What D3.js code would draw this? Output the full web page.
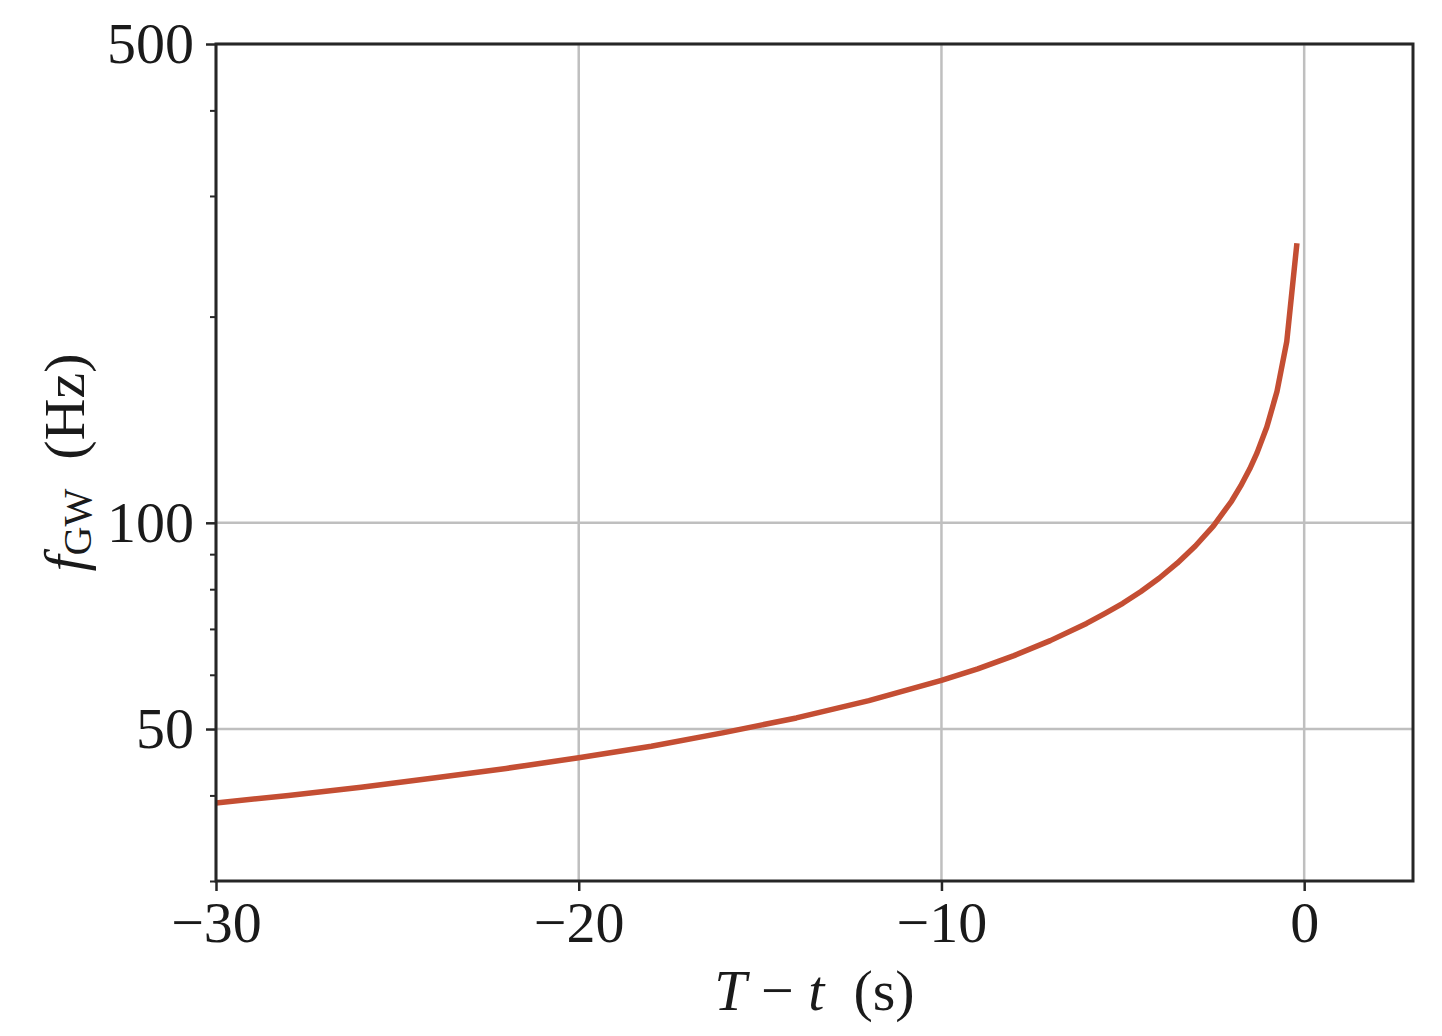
<!DOCTYPE html>
<html>
<head>
<meta charset="utf-8">
<script src="https://cdn.jsdelivr.net/npm/d3@7"></script>
<style>
  html, body { margin: 0; padding: 0; background: #fff; }
  svg { display: block; }
  text { font-family: "Liberation Serif", "DejaVu Serif", serif; fill: #1a1a1a; }
</style>
</head>
<body>
<svg id="chart" width="1442" height="1036"></svg>
<script>
// ---- data ----
const timeToMerger = [-30, -28, -26, -24, -22, -20, -18, -16, -14, -12, -10, -9, -8, -7, -6, -5.5, -5, -4.5, -4, -3.5, -3, -2.5, -2, -1.75, -1.5, -1.3, -1.03, -0.75, -0.48, -0.2];
const freqGW       = [39.0, 40.0, 41.1, 42.4, 43.8, 45.4, 47.2, 49.4, 51.9, 55.0, 58.9, 61.2, 64.0, 67.3, 71.3, 73.7, 76.3, 79.4, 83.0, 87.3, 92.5, 99.0, 107.6, 113.2, 119.9, 126.5, 138.0, 155.5, 183.9, 256];
const xTicks = [-30, -20, -10, 0];
const yMajorTicks = [50, 100, 500];
const yMinorTicks = [30, 40, 60, 70, 80, 90, 200, 300, 400];
const xDomain = [-30, 3];
const yDomain = [30, 500];

// ---- layout ----
const W = 1442, H = 1036;
const margin = { left: 216, right: 29, top: 44, bottom: 155 };
const pw = W - margin.left - margin.right;
const ph = H - margin.top - margin.bottom;

const svg = d3.select("#chart");
const g = svg.append("g").attr("transform", `translate(${margin.left},${margin.top})`);

const x = d3.scaleLinear().domain(xDomain).range([0, pw]);
const y = d3.scaleLog().domain(yDomain).range([ph, 0]);

const axisColor = "#262626";
const gridColor = "#bfbfbf";
const fs = 58;

// grid
g.append("g").selectAll("line").data(xTicks).join("line")
  .attr("x1", d => x(d)).attr("x2", d => x(d))
  .attr("y1", 0).attr("y2", ph)
  .attr("stroke", gridColor).attr("stroke-width", 2.5);
g.append("g").selectAll("line").data(yMajorTicks).join("line")
  .attr("x1", 0).attr("x2", pw)
  .attr("y1", d => y(d)).attr("y2", d => y(d))
  .attr("stroke", gridColor).attr("stroke-width", 2.5);

// curve
const pts = timeToMerger.map((t, i) => [t, freqGW[i]]);
g.append("path")
  .datum(pts)
  .attr("fill", "none")
  .attr("stroke", "#c44e33")
  .attr("stroke-width", 5.5)
  .attr("stroke-linejoin", "round")
  .attr("d", d3.line().x(d => x(d[0])).y(d => y(d[1])));

// x axis
const xAxis = g.append("g").attr("transform", `translate(0,${ph})`)
  .call(d3.axisBottom(x).tickValues(xTicks).tickSize(10).tickPadding(10)
    .tickFormat(d => d < 0 ? "\u2212" + Math.abs(d) : String(d)));
xAxis.select(".domain").remove();
xAxis.selectAll(".tick line").attr("stroke", axisColor).attr("stroke-width", 2.5);
xAxis.selectAll(".tick text").attr("font-size", fs).attr("fill", "#1a1a1a")
  .attr("font-family", "Liberation Serif, serif");

// y axis major
const yAxis = g.append("g")
  .call(d3.axisLeft(y).tickValues(yMajorTicks).tickSize(10).tickPadding(12)
    .tickFormat(d3.format("d")));
yAxis.select(".domain").remove();
yAxis.selectAll(".tick line").attr("stroke", axisColor).attr("stroke-width", 2.5);
yAxis.selectAll(".tick text").attr("font-size", fs).attr("fill", "#1a1a1a")
  .attr("font-family", "Liberation Serif, serif");

// y axis minor
const yMinor = g.append("g")
  .call(d3.axisLeft(y).tickValues(yMinorTicks).tickSize(6).tickFormat(""));
yMinor.select(".domain").remove();
yMinor.selectAll(".tick line").attr("stroke", axisColor).attr("stroke-width", 2);

// frame
g.append("rect").attr("x", 0).attr("y", 0).attr("width", pw).attr("height", ph)
  .attr("fill", "none").attr("stroke", axisColor).attr("stroke-width", 3);

// x label
const xl = svg.append("text")
  .attr("x", margin.left + pw / 2).attr("y", 1010)
  .attr("text-anchor", "middle").attr("font-size", fs);
xl.append("tspan").attr("font-style", "italic").text("T");
xl.append("tspan").text(" \u2212 ");
xl.append("tspan").attr("font-style", "italic").text("t");
xl.append("tspan").text("\u2002(s)");

// y label
const yl = svg.append("text")
  .attr("transform", `translate(84,${margin.top + ph / 2}) rotate(-90)`)
  .attr("text-anchor", "middle").attr("font-size", fs);
yl.append("tspan").attr("font-style", "italic").text("f");
yl.append("tspan").attr("font-size", 40).attr("dy", 7).text("GW");
yl.append("tspan").attr("dy", -7).text("\u2002(Hz)");
</script>
</body>
</html>
